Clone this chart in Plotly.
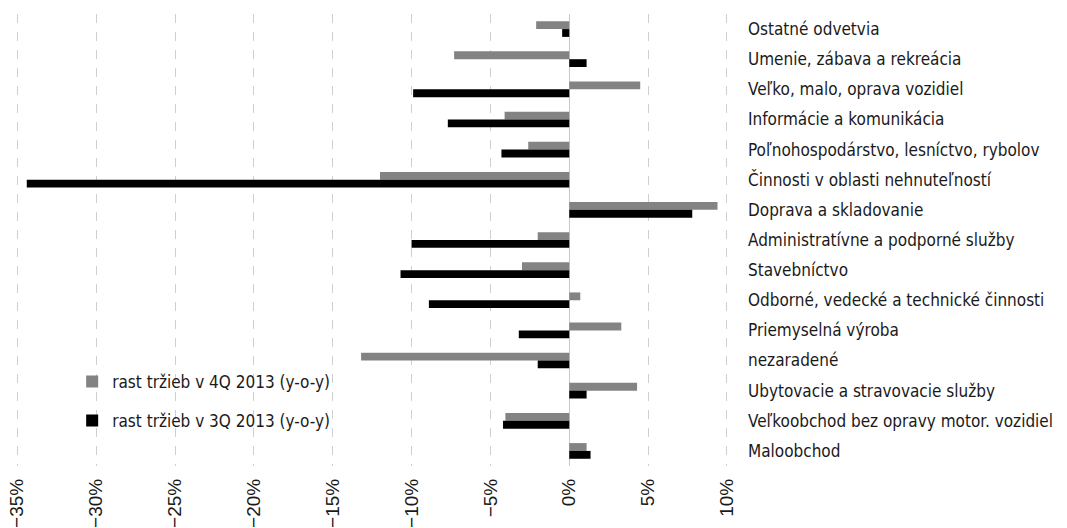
import plotly.graph_objects as go

# Sectors, top to bottom
categories = [
    "Ostatné odvetvia",
    "Umenie, zábava a rekreácia",
    "Veľko, malo, oprava vozidiel",
    "Informácie a komunikácia",
    "Poľnohospodárstvo, lesníctvo, rybolov",
    "Činnosti v oblasti nehnuteľností",
    "Doprava a skladovanie",
    "Administratívne a podporné služby",
    "Stavebníctvo",
    "Odborné, vedecké a technické činnosti",
    "Priemyselná výroba",
    "nezaradené",
    "Ubytovacie a stravovacie služby",
    "Veľkoobchod bez opravy motor. vozidiel",
    "Maloobchod",
]

# Year-on-year sales growth, %
growth_4q_2013 = [-2.1, -7.3, 4.5, -4.1, -2.6, -12.0, 9.4, -2.0, -3.0, 0.7, 3.3, -13.2, 4.3, -4.05, 1.1]
growth_3q_2013 = [-0.45, 1.1, -9.9, -7.7, -4.3, -34.4, 7.8, -10.0, -10.7, -8.9, -3.2, -2.0, 1.1, -4.2, 1.35]

x_ticks = [-35, -30, -25, -20, -15, -10, -5, 0, 5, 10]
x_tick_labels = ["−35%", "−30%", "−25%", "−20%", "−15%", "−10%", "−5%", "0%", "5%", "10%"]

narrow = "Liberation Sans Narrow, Arial Narrow, DejaVu Sans Condensed, sans-serif"

fig = go.Figure()
fig.add_trace(go.Bar(
    y=categories, x=growth_4q_2013, orientation="h",
    name="rast tržieb v 4Q 2013 (y-o-y)", marker_color="#838383",
    marker_line_width=0, legendgroup="a",
))
fig.add_trace(go.Bar(
    y=categories, x=growth_3q_2013, orientation="h",
    name="rast tržieb v 3Q 2013 (y-o-y)", marker_color="#000000",
    marker_line_width=0, legendgroup="b",
))

fig.update_layout(
    width=1067, height=528,
    margin=dict(l=5, r=332, t=14, b=62),
    paper_bgcolor="white", plot_bgcolor="white",
    barmode="group", bargap=0.48, bargroupgap=0,
    font=dict(family=narrow, size=17, color="#1a1a1a"),
    legend=dict(
        x=0.092, y=0.226, xanchor="left", yanchor="top",
        bgcolor="rgba(0,0,0,0)", tracegroupgap=14,
        font=dict(family=narrow, size=17, color="#1a1a1a"),
        traceorder="grouped",
    ),
    xaxis=dict(
        range=[-35.78, 10.51], tickmode="array",
        tickvals=x_ticks, ticktext=x_tick_labels,
        tickangle=-90, ticks="", ticklabelstandoff=8,
        ticklabeloverflow="allow", automargin=False,
        tickfont=dict(family="Liberation Sans, Arial, sans-serif", size=19, color="#1a1a1a"),
        showgrid=True, gridcolor="#cfcfcf", griddash="dash", gridwidth=1,
        zeroline=True, zerolinecolor="#c8c8c8", zerolinewidth=1,
        showline=False, fixedrange=True,
    ),
    yaxis=dict(
        type="category", autorange="reversed", side="right",
        showgrid=False, zeroline=False, showline=False, ticks="",
        ticklabelstandoff=12, automargin=False,
        tickfont=dict(family=narrow, size=17, color="#1a1a1a"),
    ),
)

fig.write_html("out.html")
